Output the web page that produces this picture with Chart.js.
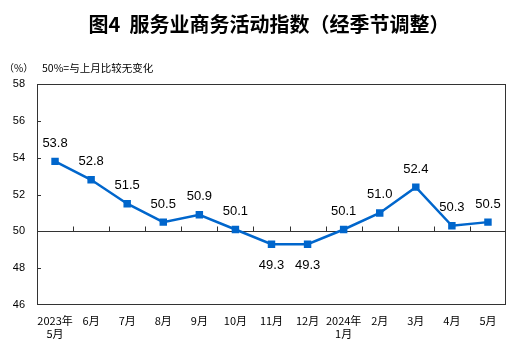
<!DOCTYPE html>
<html><head><meta charset="utf-8">
<script src="https://cdn.jsdelivr.net/npm/chart.js@4"></script>
<style>html,body{margin:0;padding:0;background:#fff}#w{width:515px;height:357px}</style>
</head><body><div id="w"><canvas id="c" width="515" height="357"></canvas></div>
<script>
const titleText = '图4  服务业商务活动指数（经季节调整）';
const unitText = '（%）';
const noteText = '50%=与上月比较无变化';
const categories = [['2023年','5月'],'6月','7月','8月','9月','10月','11月','12月',['2024年','1月'],'2月','3月','4月','5月'];
const values = [53.8,52.8,51.5,50.5,50.9,50.1,49.3,49.3,50.1,51.0,52.4,50.3,50.5];
const yTicks = [46,48,50,52,54,56,58];
const baseline = 50;

const deco = {
  id:'deco',
  beforeDatasetsDraw(chart){
    const {ctx, chartArea:a, scales:{x,y}} = chart;
    ctx.save();
    ctx.strokeStyle='#333'; ctx.lineWidth=1;
    ctx.strokeRect(a.left+0.5, a.top+0.5, a.right-a.left-1, a.bottom-a.top-1);
    const yb = Math.round(y.getPixelForValue(baseline))+0.5;
    ctx.beginPath(); ctx.moveTo(a.left,yb); ctx.lineTo(a.right,yb);
    const n = categories.length;
    for(let i=1;i<n;i++){
      const px = Math.round((x.getPixelForValue(i-1)+x.getPixelForValue(i))/2)+0.5;
      ctx.moveTo(px,yb); ctx.lineTo(px,yb-5);
    }
    yTicks.forEach(v=>{
      if(v===yTicks[0]||v===yTicks[yTicks.length-1]||v===baseline) return;
      const py = Math.round(y.getPixelForValue(v))+0.5;
      ctx.moveTo(a.left,py); ctx.lineTo(a.left+4,py);
    });
    ctx.stroke();
    ctx.restore();
  },
  afterDraw(chart){
    const {ctx, scales:{x,y}} = chart;
    ctx.save();
    ctx.fillStyle='#000';
    ctx.textAlign='center'; ctx.textBaseline='middle';
    ctx.font='bold 20px "Noto Sans CJK SC"';
    ctx.fillText(titleText, 269, 24);
    ctx.font='10px "Noto Sans CJK SC"';
    ctx.textAlign='left';
    ctx.fillText(unitText, 4, 68);
    ctx.font='10.5px "Noto Sans CJK SC"';
    ctx.fillText(noteText, 42, 68);
    ctx.font='13px "Liberation Sans", Arial';
    ctx.textAlign='center';
    values.forEach((v,i)=>{
      const px = x.getPixelForValue(i), py = y.getPixelForValue(v);
      const below = v < baseline;
      ctx.fillText(v.toFixed(1), px, below ? py+21 : py-18);
    });
    ctx.restore();
  }
};

new Chart(document.getElementById('c'), {
  type:'line',
  data:{labels:categories, datasets:[{data:values, borderColor:'#0066CC', backgroundColor:'#0066CC', borderWidth:2.5, pointStyle:'rect', pointRadius:3.5, pointHoverRadius:3.5, tension:0}]},
  options:{
    responsive:false, animation:false,
    layout:{padding:{top:84,right:9,left:0,bottom:0}},
    plugins:{legend:{display:false}, tooltip:{enabled:false}, title:{display:false}},
    scales:{
      x:{offset:true, grid:{display:false,drawTicks:false,offset:true}, border:{display:false},
         ticks:{autoSkip:false,maxRotation:0,padding:9,color:'#000',font:{size:11,family:'"Noto Sans CJK SC"',lineHeight:1.2}},
         afterFit(s){s.height=52;}},
      y:{min:46,max:58, grid:{display:false,drawTicks:false}, border:{display:false},
         afterBuildTicks(s){s.ticks = yTicks.map(v=>({value:v}));},
         ticks:{padding:12,color:'#000',font:{size:11,family:'"Liberation Sans", Arial'}},
         afterFit(s){s.width=37;}}
    }
  },
  plugins:[deco]
});
</script></body></html>
